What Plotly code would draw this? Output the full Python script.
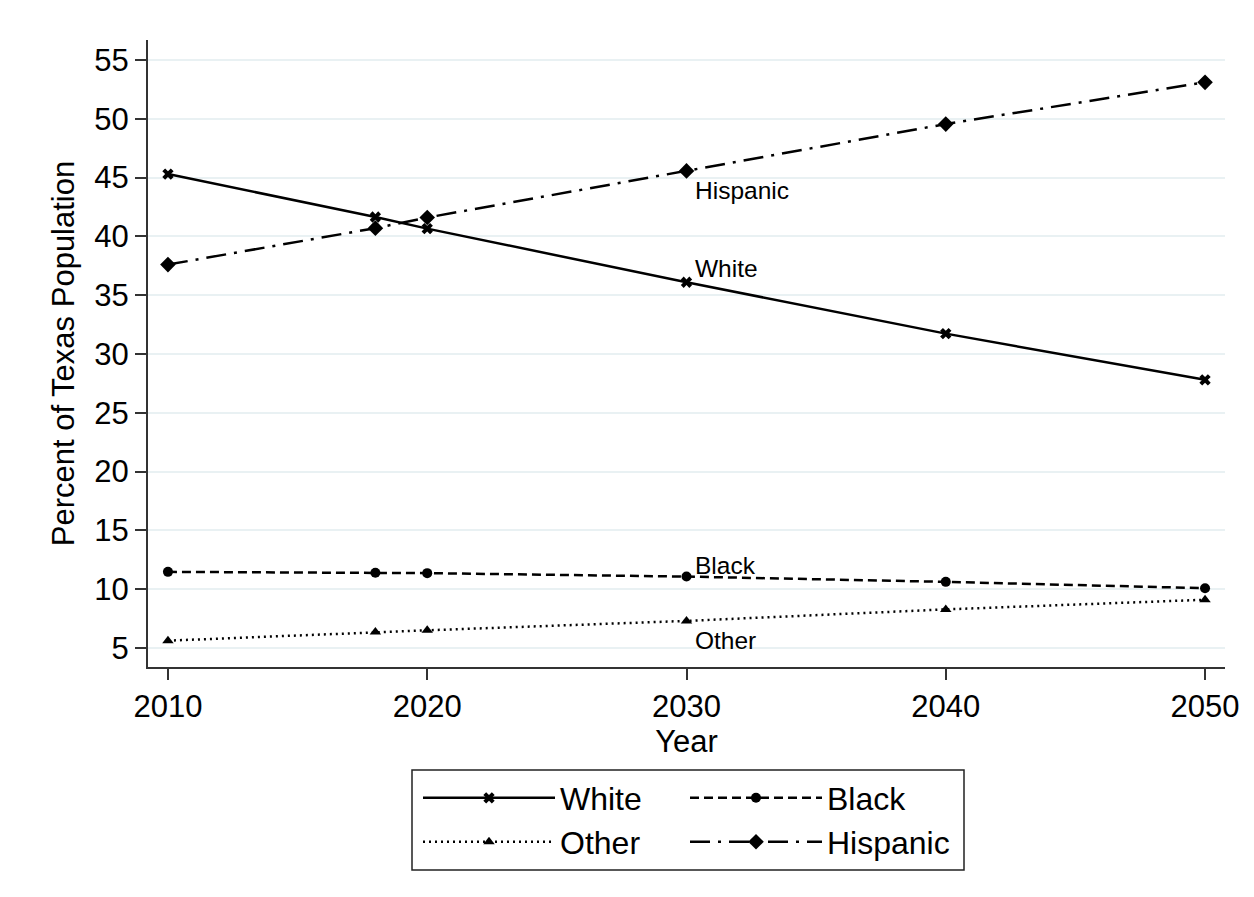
import plotly.graph_objects as go

# ---- data ----
years = [2010, 2018, 2020, 2030, 2040, 2050]
white = [45.3, 41.65, 40.66, 36.1, 31.73, 27.8]
black = [11.47, 11.39, 11.36, 11.07, 10.62, 10.08]
other = [5.62, 6.36, 6.5, 7.3, 8.28, 9.1]
hispanic = [37.6, 40.7, 41.6, 45.57, 49.55, 53.1]

x_tick_vals = [2010, 2020, 2030, 2040, 2050]
y_tick_vals = [5, 10, 15, 20, 25, 30, 35, 40, 45, 50, 55]
label_year = 2030

# ---- layout constants (page body has an 8px margin) ----
OFF = 8
W, H = 1254 - 2 * OFF, 897 - 2 * OFF
ML, MT = 148 - OFF, 40 - OFF
MR = W - (1225 - OFF)
MB = H - (667 - OFF)
PW, PH = W - ML - MR, H - MT - MB
FONT = "Liberation Sans, Arial, sans-serif"
AXC = "#333333"
GRID = "#e9f1f3"


def px_x(p):
    # window pixel -> paper x
    return (p - OFF - ML) / PW


def px_y(p):
    # window pixel -> paper y
    return (H - MB - (p - OFF)) / PH


styles = {
    "White": dict(dash="solid", symbol="x", msize=10),
    "Black": dict(dash="9px,5px", symbol="circle", msize=10),
    "Other": dict(dash="2px,4px", symbol="triangle-up", msize=10),
    "Hispanic": dict(dash="20px,8px,3px,8px", symbol="diamond", msize=12),
}
series = {"White": white, "Black": black, "Other": other, "Hispanic": hispanic}
legend_of = {"White": "legend", "Black": "legend", "Other": "legend2", "Hispanic": "legend2"}

fig = go.Figure()
for name, vals in series.items():
    st = styles[name]
    fig.add_trace(go.Scatter(
        x=years, y=vals, name=name, mode="lines+markers",
        line=dict(color="black", width=2.5, dash=st["dash"]),
        marker=dict(color="black", symbol=st["symbol"], size=st["msize"]),
        legend=legend_of[name],
    ))

# in-plot labels next to the 2030 points
idx = years.index(label_year)
label_shift = {"Hispanic": -20, "White": 14, "Black": 11, "Other": -20}
for name, vals in series.items():
    fig.add_annotation(
        x=label_year, y=vals[idx], text=name, showarrow=False,
        xanchor="left", yanchor="middle", xshift=6, yshift=label_shift[name],
        font=dict(size=24.5, color="black", family=FONT),
    )

# legend box
fig.add_shape(type="rect", xref="paper", yref="paper",
              x0=px_x(412), x1=px_x(964), y0=px_y(870), y1=px_y(770),
              line=dict(color="#222222", width=1.5), fillcolor="rgba(0,0,0,0)")

leg_common = dict(orientation="h", xanchor="left", yanchor="middle",
                  font=dict(size=32, color="black", family=FONT),
                  itemwidth=132, entrywidth=120, entrywidthmode="pixels",
                  bgcolor="rgba(0,0,0,0)", borderwidth=0, itemclick=False)

fig.update_layout(
    width=W, height=H,
    margin=dict(l=ML, r=MR, t=MT, b=MB),
    paper_bgcolor="white", plot_bgcolor="white",
    font=dict(family=FONT, color="black", size=31),
    legend=dict(x=px_x(418), y=px_y(798), **leg_common),
    legend2=dict(x=px_x(418), y=px_y(842), **leg_common),
    xaxis=dict(
        range=[2009.23, 2050.77], tickvals=x_tick_vals, ticks="outside",
        ticklen=11, tickwidth=2, tickcolor=AXC, showline=True, linewidth=2,
        linecolor=AXC, showgrid=False, zeroline=False,
        tickfont=dict(size=31, color="black"),
        title=dict(text="Year", font=dict(size=31, color="black"), standoff=2),
        automargin=False,
    ),
    yaxis=dict(
        range=[3.38, 56.7], tickvals=y_tick_vals, ticks="outside",
        ticklen=11, tickwidth=2, tickcolor=AXC, showline=True, linewidth=2,
        linecolor=AXC, showgrid=True, gridcolor=GRID, gridwidth=2, zeroline=False,
        tickfont=dict(size=31, color="black"),
        title=dict(text="Percent of Texas Population", font=dict(size=31, color="black"), standoff=10),
        automargin=False,
    ),
)

fig.write_html("out.html")
